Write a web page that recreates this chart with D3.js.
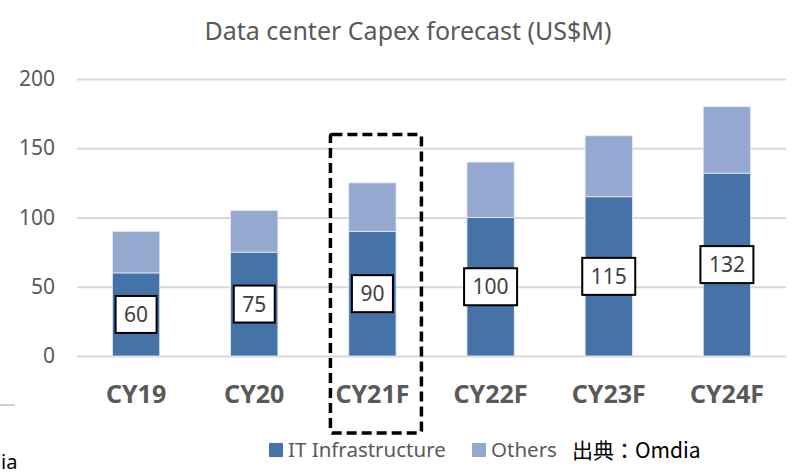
<!DOCTYPE html>
<html>
<head>
<meta charset="utf-8">
<script src="https://cdn.jsdelivr.net/npm/d3@7"></script>
<style>
  body { margin: 0; background: #fff; }
  svg { display: block; font-family: "Noto Sans", "Open Sans", sans-serif; }
</style>
</head>
<body>
<div class="viz"></div>
<script>
// chart data
var categories = ["CY19", "CY20", "CY21F", "CY22F", "CY23F", "CY24F"];
var itInfra = [60, 75, 90, 100, 115, 132];
var others = [30, 30, 35, 40, 44, 48];
var yTicks = [0, 50, 100, 150, 200];
var highlighted = "CY21F";

var width = 794, height = 476;
var grey = "#595959";
var darkBlue = "#4673a7";
var lightBlue = "#95a9d0";

var svg = d3.select(".viz").append("svg")
  .attr("width", width)
  .attr("height", height);

var x = d3.scaleBand()
  .domain(categories)
  .range([77, 786])
  .paddingInner(0.6)
  .paddingOuter(0.3);

var y = d3.scaleLinear()
  .domain([0, 200])
  .range([356, 79]);

// title
svg.append("text")
  .attr("x", 408)
  .attr("y", 40)
  .attr("text-anchor", "middle")
  .attr("font-size", 25)
  .attr("fill", grey)
  .text("Data center Capex forecast (US$M)");

// gridlines + y labels
var yAxis = d3.axisLeft(y).tickValues(yTicks).tickSize(-(786 - 77)).tickPadding(22);
var yg = svg.append("g").attr("transform", "translate(77,0)").call(yAxis);
yg.select(".domain").remove();
yg.selectAll(".tick line").attr("stroke", "#d9d9d9").attr("stroke-width", 2);
yg.selectAll(".tick text")
  .attr("font-size", 21)
  .attr("fill", grey)
  .attr("font-family", "Noto Sans");

// stacked bars
var rows = categories.map(function (c, i) { return { cat: c, it: itInfra[i], oth: others[i] }; });
var stack = d3.stack().keys(["it", "oth"])(rows);
var colors = { it: darkBlue, oth: lightBlue };

svg.append("g").selectAll("g")
  .data(stack)
  .join("g")
  .attr("fill", function (d) { return colors[d.key]; })
  .selectAll("rect")
  .data(function (d) { return d; })
  .join("rect")
  .attr("x", function (d) { return x(d.data.cat); })
  .attr("y", function (d) { return y(d[1]); })
  .attr("width", x.bandwidth())
  .attr("height", function (d) { return y(d[0]) - y(d[1]); })
  .attr("stroke", "#e4eaf4")
  .attr("stroke-width", 0.8);

// value boxes on the IT segment
var labels = svg.append("g").selectAll("g")
  .data(rows)
  .join("g")
  .attr("transform", function (d) {
    return "translate(" + (x(d.cat) + x.bandwidth() / 2) + "," + y(d.it / 2) + ")";
  });

labels.append("rect")
  .attr("x", function (d) { return d.it >= 100 ? -26.5 : -20.5; })
  .attr("y", -18.5)
  .attr("width", function (d) { return d.it >= 100 ? 53 : 41; })
  .attr("height", 37)
  .attr("fill", "#fff")
  .attr("stroke", "#000")
  .attr("stroke-width", 2);

labels.append("text")
  .attr("text-anchor", "middle")
  .attr("dy", "0.36em")
  .attr("font-size", 21)
  .attr("fill", "#404040")
  .text(function (d) { return d.it; });

// category labels
svg.append("g").selectAll("text")
  .data(categories)
  .join("text")
  .attr("x", function (d) { return x(d) + x.bandwidth() / 2; })
  .attr("y", 403)
  .attr("text-anchor", "middle")
  .attr("font-size", 25)
  .attr("font-weight", "bold")
  .attr("fill", grey)
  .text(function (d) { return d; });

// dashed highlight around CY21F
var hc = x(highlighted) + x.bandwidth() / 2;
svg.append("rect")
  .attr("x", hc - 42)
  .attr("y", y(160))
  .attr("width", 91)
  .attr("height", 433 - y(160))
  .attr("rx", 2)
  .attr("fill", "none")
  .attr("stroke", "#000")
  .attr("stroke-width", 3.5)
  .attr("stroke-dasharray", "10,5");

// legend
var legendItems = [
  { name: "IT Infrastructure", color: darkBlue, x: 269 },
  { name: "Others", color: lightBlue, x: 472 }
];
var lg = svg.append("g").selectAll("g")
  .data(legendItems)
  .join("g")
  .attr("transform", function (d) { return "translate(" + d.x + ",443)"; });
lg.append("rect").attr("width", 14).attr("height", 14).attr("fill", function (d) { return d.color; });
lg.append("text")
  .attr("x", 19)
  .attr("y", 14)
  .attr("font-size", 20.5)
  .attr("fill", grey)
  .text(function (d) { return d.name; });

svg.append("text")
  .attr("x", 572)
  .attr("y", 458)
  .attr("font-size", 21)
  .attr("fill", "#000")
  .attr("font-family", "'Noto Sans CJK JP', 'Noto Sans', sans-serif")
  .text("出典：Omdia");

// cropped leftovers at the left edge
svg.append("line")
  .attr("x1", 0).attr("x2", 15)
  .attr("y1", 405).attr("y2", 405)
  .attr("stroke", "#d0d0d0")
  .attr("stroke-width", 2);
svg.append("text")
  .attr("x", 1)
  .attr("y", 469)
  .attr("font-size", 20)
  .attr("fill", "#000")
  .text("ia");
</script>
</body>
</html>
